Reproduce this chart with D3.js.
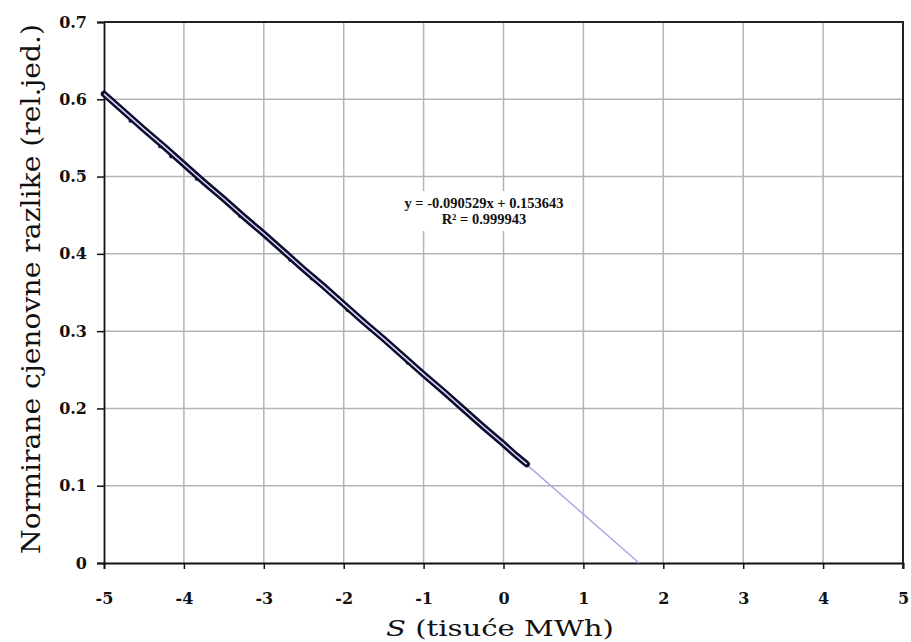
<!DOCTYPE html>
<html><head><meta charset="utf-8">
<script src="https://cdn.jsdelivr.net/npm/d3@7"></script>
<style>body{margin:0;background:#fff}</style>
</head><body>
<svg id="c" width="911" height="642"></svg>
<script>
const xTicks = [-5,-4,-3,-2,-1,0,1,2,3,4,5];
const yTicks = [0,0.1,0.2,0.3,0.4,0.5,0.6,0.7];
const dataX = [-5,-4.75,-4.5,-4.25,-4,-3.75,-3.5,-3.25,-3,-2.75,-2.5,-2.25,-2,-1.75,-1.5,-1.25,-1,-0.75,-0.5,-0.25,0,0.15,0.29];
const dataY = [0.607,0.584,0.561,0.539,0.516,0.493,0.471,0.448,0.426,0.403,0.380,0.358,0.335,0.312,0.290,0.267,0.244,0.222,0.199,0.176,0.154,0.140,0.128];
const scatX = [-4.67,-4.30,-4.16,-3.84,-3.30,-2.67,-2.40,-1.95,-1.20];
const scatY = [0.572,0.539,0.526,0.497,0.449,0.392,0.368,0.327,0.259];
const trendX = [-5, 1.697];
const trendY = [0.6063, 0];
const eqLines = ["y = -0.090529x + 0.153643", "R\u00B2 = 0.999943"];
const xTitleItalic = "S";
const xTitleRest = " (tisuće MWh)";
const yTitle = "Normirane cjenovne razlike (rel.jed.)";

const svg = d3.select("#c");
const L=104, R=903, T=22, B=563;
const x = d3.scaleLinear().domain([-5,5]).range([L,R]);
const y = d3.scaleLinear().domain([0,0.7]).range([B,T]);

// grid
svg.append("g").selectAll("line").data(xTicks.slice(1,-1)).join("line")
  .attr("x1",d=>x(d)).attr("x2",d=>x(d)).attr("y1",T).attr("y2",B)
  .attr("stroke","#b4b4b4").attr("stroke-width",1.5);
svg.append("g").selectAll("line").data(yTicks.slice(1,-1)).join("line")
  .attr("y1",d=>y(d)).attr("y2",d=>y(d)).attr("x1",L).attr("x2",R)
  .attr("stroke","#b4b4b4").attr("stroke-width",1.5);

// equation box
const eqG = svg.append("g");
eqG.append("rect").attr("x",394).attr("y",191).attr("width",180).attr("height",40).attr("fill","#fff");
eqG.selectAll("text").data(eqLines).join("text")
  .attr("x",484).attr("y",(d,i)=>208+i*16).attr("text-anchor","middle")
  .attr("font-family","Liberation Serif, serif").attr("font-weight","bold").attr("font-size",14.5)
  .attr("fill","#111").text(d=>d);

// axes
const xAxis = d3.axisBottom(x).tickValues(xTicks).tickSize(6).tickPadding(24).tickFormat(d=>String(d));
const yAxis = d3.axisLeft(y).tickValues(yTicks).tickSize(7).tickPadding(10).tickFormat(d=>d===0?"0":d3.format(".1f")(d));
const gx = svg.append("g").attr("transform",`translate(0,${B})`).call(xAxis);
const gy = svg.append("g").attr("transform",`translate(${L},0)`).call(yAxis);
[gx,gy].forEach(g=>{
  g.select(".domain").attr("stroke","#111").attr("stroke-width",1.8);
  g.selectAll(".tick line").attr("stroke","#111").attr("stroke-width",1.5);
  g.selectAll(".tick text").attr("font-family","DejaVu Serif, serif").attr("font-weight","bold")
   .attr("font-size",16).attr("fill","#111");
});
// top & right border
svg.append("path").attr("d",`M${L},${T}H${R}V${B+6}`).attr("fill","none")
  .attr("stroke","#222").attr("stroke-width",2);

// trend line
const line = d3.line().x(d=>x(d[0])).y(d=>y(d[1]));
svg.append("path").attr("d",line(d3.zip(trendX,trendY))).attr("fill","none")
  .attr("stroke","#a4a4e6").attr("stroke-width",1.4);

// data band
const pts = d3.zip(dataX,dataY);
svg.append("g").selectAll("circle").data(d3.zip(scatX,scatY)).join("circle")
  .attr("cx",d=>x(d[0])).attr("cy",d=>y(d[1])).attr("r",1.9).attr("fill","#22225e");
svg.append("path").attr("d",line(pts)).attr("fill","none")
  .attr("stroke","#0c0c30").attr("stroke-width",6.5).attr("stroke-linecap","round");
svg.append("path").attr("d",line(pts)).attr("fill","none")
  .attr("stroke","#dcdcf4").attr("stroke-width",1.5);

// titles
const xt = svg.append("text").attr("x",500).attr("y",636).attr("text-anchor","middle")
  .attr("font-family","DejaVu Serif, serif").attr("font-size",23).attr("fill","#111")
  .attr("textLength",228).attr("lengthAdjust","spacingAndGlyphs");
xt.append("tspan").attr("font-style","italic").text(xTitleItalic);
xt.append("tspan").text(xTitleRest);
svg.append("text").attr("transform","translate(31,289) rotate(-90)")
  .attr("text-anchor","middle").attr("dominant-baseline","central")
  .attr("font-family","DejaVu Serif, serif").attr("font-size",26).attr("fill","#111")
  .attr("textLength",530).attr("lengthAdjust","spacingAndGlyphs").text(yTitle);
</script>
</body></html>
